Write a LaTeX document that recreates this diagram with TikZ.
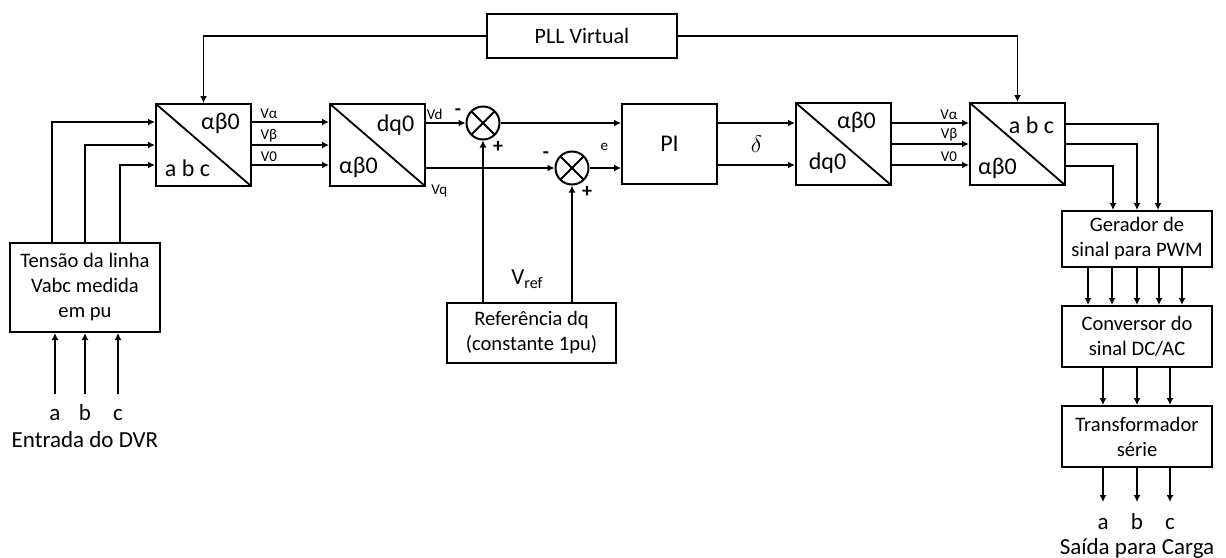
\documentclass[tikz,border=0pt]{standalone}
\usepackage{fontspec}
\setmainfont{Carlito}
\usepackage{amsmath}
\usepackage{tikz}
\usetikzlibrary{positioning, arrows.meta, calc}
\tikzset{
    blk/.style={
        rectangle, draw=black, line width=1pt,
        minimum width=75pt, minimum height=30.5pt,
        align=center, inner sep=1pt,
        font=\fontsize{10.3}{12.5}\selectfont
    },
    convblk/.style={
        rectangle, draw=black, line width=1pt,
        minimum width=47.5pt, minimum height=41pt,
        path picture={\draw[line width=0.9pt] (path picture bounding box.north west) -- (path picture bounding box.south east);}
    },
    sumnode/.style={
        circle, draw=black, line width=1pt,
        minimum size=16.5pt, inner sep=0pt,
        path picture={\draw[line width=0.9pt] (path picture bounding box.north west) -- (path picture bounding box.south east)
            (path picture bounding box.north east) -- (path picture bounding box.south west);}
    },
    sig/.style={
        -{Latex[length=3.5pt,width=3.5pt]}, line width=0.9pt
    },
    blklbl/.style={font=\fontsize{12}{14}\selectfont, inner sep=0pt},
    sml/.style={font=\fontsize{7.5}{8}\selectfont, inner sep=1pt},
    sgn/.style={font=\fontsize{10}{11}\selectfont\bfseries, inner sep=0pt},
    caplbl/.style={font=\fontsize{11.5}{13}\selectfont, inner sep=0pt,
        text height=1.6ex, text depth=0.3ex}
}

\begin{document}
\begin{tikzpicture}[
    x=0.5pt, y=-0.5pt,
    node distance=18.5pt and 38.5pt
]
\useasboundingbox (0,0) rectangle (1226,557);

% cadeia principal
\node[convblk] (abc1) at (203.5,145) {};
\node[convblk, right=of abc1] (dq1) {};
\node[blk, minimum width=47.5pt, minimum height=40pt, font=\fontsize{12}{14}\selectfont] (pi) at (669.5,144) {PI};
\node[convblk, right=of pi] (dq2) {};
\node[convblk, right=of dq2] (abc2) {};

\node[blk, minimum width=95pt, minimum height=22pt, font=\fontsize{11}{13}\selectfont] (pll) at (582,36) {PLL Virtual};

\node[sumnode] (sum1) at (483,123) {};
\node[sumnode] (sum2) at (572,168) {};

\node[blk, minimum height=44.5pt] (tens) at (85,287.5) {Tensão da linha\\Vabc medida\\em pu};
\node[blk, minimum width=84.5pt, minimum height=30pt] (ref) at (531.5,333) {Referência dq\\(constante 1pu)};

% coluna da direita
\node[blk, minimum height=28pt] (ger) at (1137,239) {Gerador de\\sinal para PWM};
\node[blk, below=of ger] (dcac) {Conversor do\\sinal DC/AC};
\node[blk, below=of dcac] (trafo) {Transformador\\série};

% textos dentro dos blocos
\node[blklbl] (abc1-t) at ([xshift=8.5pt,yshift=11pt]abc1.center) {αβ0};
\node[blklbl] (abc1-b) at ([xshift=-8pt,yshift=-11.5pt]abc1.center) {a b c};
\node[blklbl] (dq1-t) at ([xshift=9pt,yshift=10pt]dq1.center) {dq0};
\node[blklbl] (dq1-b) at ([xshift=-9.5pt,yshift=-11pt]dq1.center) {αβ0};
\node[blklbl] (dq2-t) at ([xshift=6.5pt,yshift=11pt]dq2.center) {αβ0};
\node[blklbl] (dq2-b) at ([xshift=-8pt,yshift=-9.5pt]dq2.center) {dq0};
\node[blklbl] (abc2-t) at ([xshift=7pt,yshift=9.5pt]abc2.center) {a b c};
\node[blklbl] (abc2-b) at ([xshift=-10pt,yshift=-12pt]abc2.center) {αβ0};

% PLL
\draw[sig] (pll.west) -| (abc1.north);
\draw[sig] (pll.east) -| (abc2.north);

% entrada
\coordinate (ia) at ([xshift=-15pt,yshift=-30.5pt]tens.south);
\coordinate (ib) at ([yshift=-30.5pt]tens.south);
\coordinate (ic) at ([xshift=16.5pt,yshift=-30.5pt]tens.south);
\draw[sig] (ia) -- (ia |- tens.south);
\draw[sig] (ib) -- (ib |- tens.south);
\draw[sig] (ic) -- (ic |- tens.south);
\node[caplbl] (ina) at ([yshift=-10pt]ia) {a};
\node[caplbl] (inb) at ([yshift=-10pt]ib) {b};
\node[caplbl] (inc) at ([yshift=-10pt]ic) {c};
\node[caplbl] (incap) at ([yshift=-13.5pt]inb) {Entrada do DVR};

\draw[sig] ([xshift=-16.5pt]tens.north) |- ([yshift=11.5pt]abc1.west);
\draw[sig] (tens.north) |- (abc1.west);
\draw[sig] ([xshift=17.5pt]tens.north) |- ([yshift=-10pt]abc1.west);

% abc -> alfa beta 0
\draw[sig] ([yshift=11.5pt]abc1.east) -- node[sml, above, pos=0.22] (va1) {Vα} ([yshift=11.5pt]dq1.west);
\draw[sig] (abc1.east) -- node[sml, above, pos=0.22] (vb1) {Vβ} (dq1.west);
\draw[sig] ([yshift=-10pt]abc1.east) -- node[sml, above, pos=0.22] (v01) {V0} ([yshift=-10pt]dq1.west);

% dq -> somadores
\draw[sig] (dq1.east |- sum1) -- node[sml, above, pos=0.22] (vd) {Vd} (sum1.west);
\draw[sig] (dq1.east |- sum2) -- (sum2.west);
\node[sml, anchor=west] (vq) at ([xshift=1.5pt,yshift=-2pt]dq1.south east) {Vq};

\node[sgn] (s1m) at ([xshift=-12.5pt,yshift=5.5pt]sum1.center) {-};
\node[sgn] (s1p) at ([xshift=7.5pt,yshift=-12pt]sum1.center) {+};
\node[sgn] (s2m) at ([xshift=-13pt,yshift=6.5pt]sum2.center) {-};
\node[sgn] (s2p) at ([xshift=7.5pt,yshift=-12pt]sum2.center) {+};

\draw[sig] (sum1.east) -- (pi.west |- sum1);
\draw[sig] (sum2.east) -- node[sml, above=7.5pt, pos=0.47] (err) {e} (pi.west |- sum2);

% referencia
\draw[sig] (ref.north -| sum1) -- (sum1.south);
\draw[sig] (ref.north -| sum2) -- (sum2.south);
\node[font=\fontsize{11.5}{13}\selectfont] (vref) at ([xshift=-2pt,yshift=11.5pt]ref.north) {V\textsubscript{ref}};

% PI -> dq0/alfa beta 0
\draw[sig] ([yshift=10.5pt]pi.east) -- ([yshift=10.5pt]dq2.west);
\draw[sig] ([yshift=-10.5pt]pi.east) -- ([yshift=-10.5pt]dq2.west);
\node[font=\fontsize{13}{15}\selectfont] (delta) at ($(pi.east)!0.5!(dq2.west)$) {$\delta$};

\draw[sig] ([yshift=10.5pt]dq2.east) -- node[sml, above, pos=0.74] (va2) {Vα} ([yshift=10.5pt]abc2.west);
\draw[sig] (dq2.east) -- node[sml, above, pos=0.74] (vb2) {Vβ} (abc2.west);
\draw[sig] ([yshift=-10.5pt]dq2.east) -- node[sml, above, pos=0.74] (v02) {V0} ([yshift=-10.5pt]abc2.west);

% abc -> PWM
\draw[sig] ([yshift=10pt]abc2.east) -| ([xshift=10.5pt]ger.north);
\draw[sig] (abc2.east) -| (ger.north);
\draw[sig] ([yshift=-11pt]abc2.east) -| ([xshift=-12pt]ger.north);

\draw[sig] ([xshift=-24.5pt]ger.south) -- ([xshift=-24.5pt]dcac.north);
\draw[sig] ([xshift=-12.5pt]ger.south) -- ([xshift=-12.5pt]dcac.north);
\draw[sig] (ger.south) -- (dcac.north);
\draw[sig] ([xshift=11pt]ger.south) -- ([xshift=11pt]dcac.north);
\draw[sig] ([xshift=22.5pt]ger.south) -- ([xshift=22.5pt]dcac.north);

\draw[sig] ([xshift=-17pt]dcac.south) -- ([xshift=-17pt]trafo.north);
\draw[sig] (dcac.south) -- (trafo.north);
\draw[sig] ([xshift=16.5pt]dcac.south) -- ([xshift=16.5pt]trafo.north);

% saida
\coordinate (oa) at ([xshift=-17pt,yshift=-17pt]trafo.south);
\coordinate (ob) at ([yshift=-17pt]trafo.south);
\coordinate (oc) at ([xshift=16.5pt,yshift=-17pt]trafo.south);
\draw[sig] (oa |- trafo.south) -- (oa);
\draw[sig] (ob |- trafo.south) -- (ob);
\draw[sig] (oc |- trafo.south) -- (oc);
\node[caplbl] (outa) at ([yshift=-10.5pt]oa) {a};
\node[caplbl] (outb) at ([yshift=-10.5pt]ob) {b};
\node[caplbl] (outc) at ([yshift=-10.5pt]oc) {c};
\node[caplbl] (outcap) at ([yshift=-12.5pt]outb) {Saída para Carga};

\end{tikzpicture}
\end{document}
